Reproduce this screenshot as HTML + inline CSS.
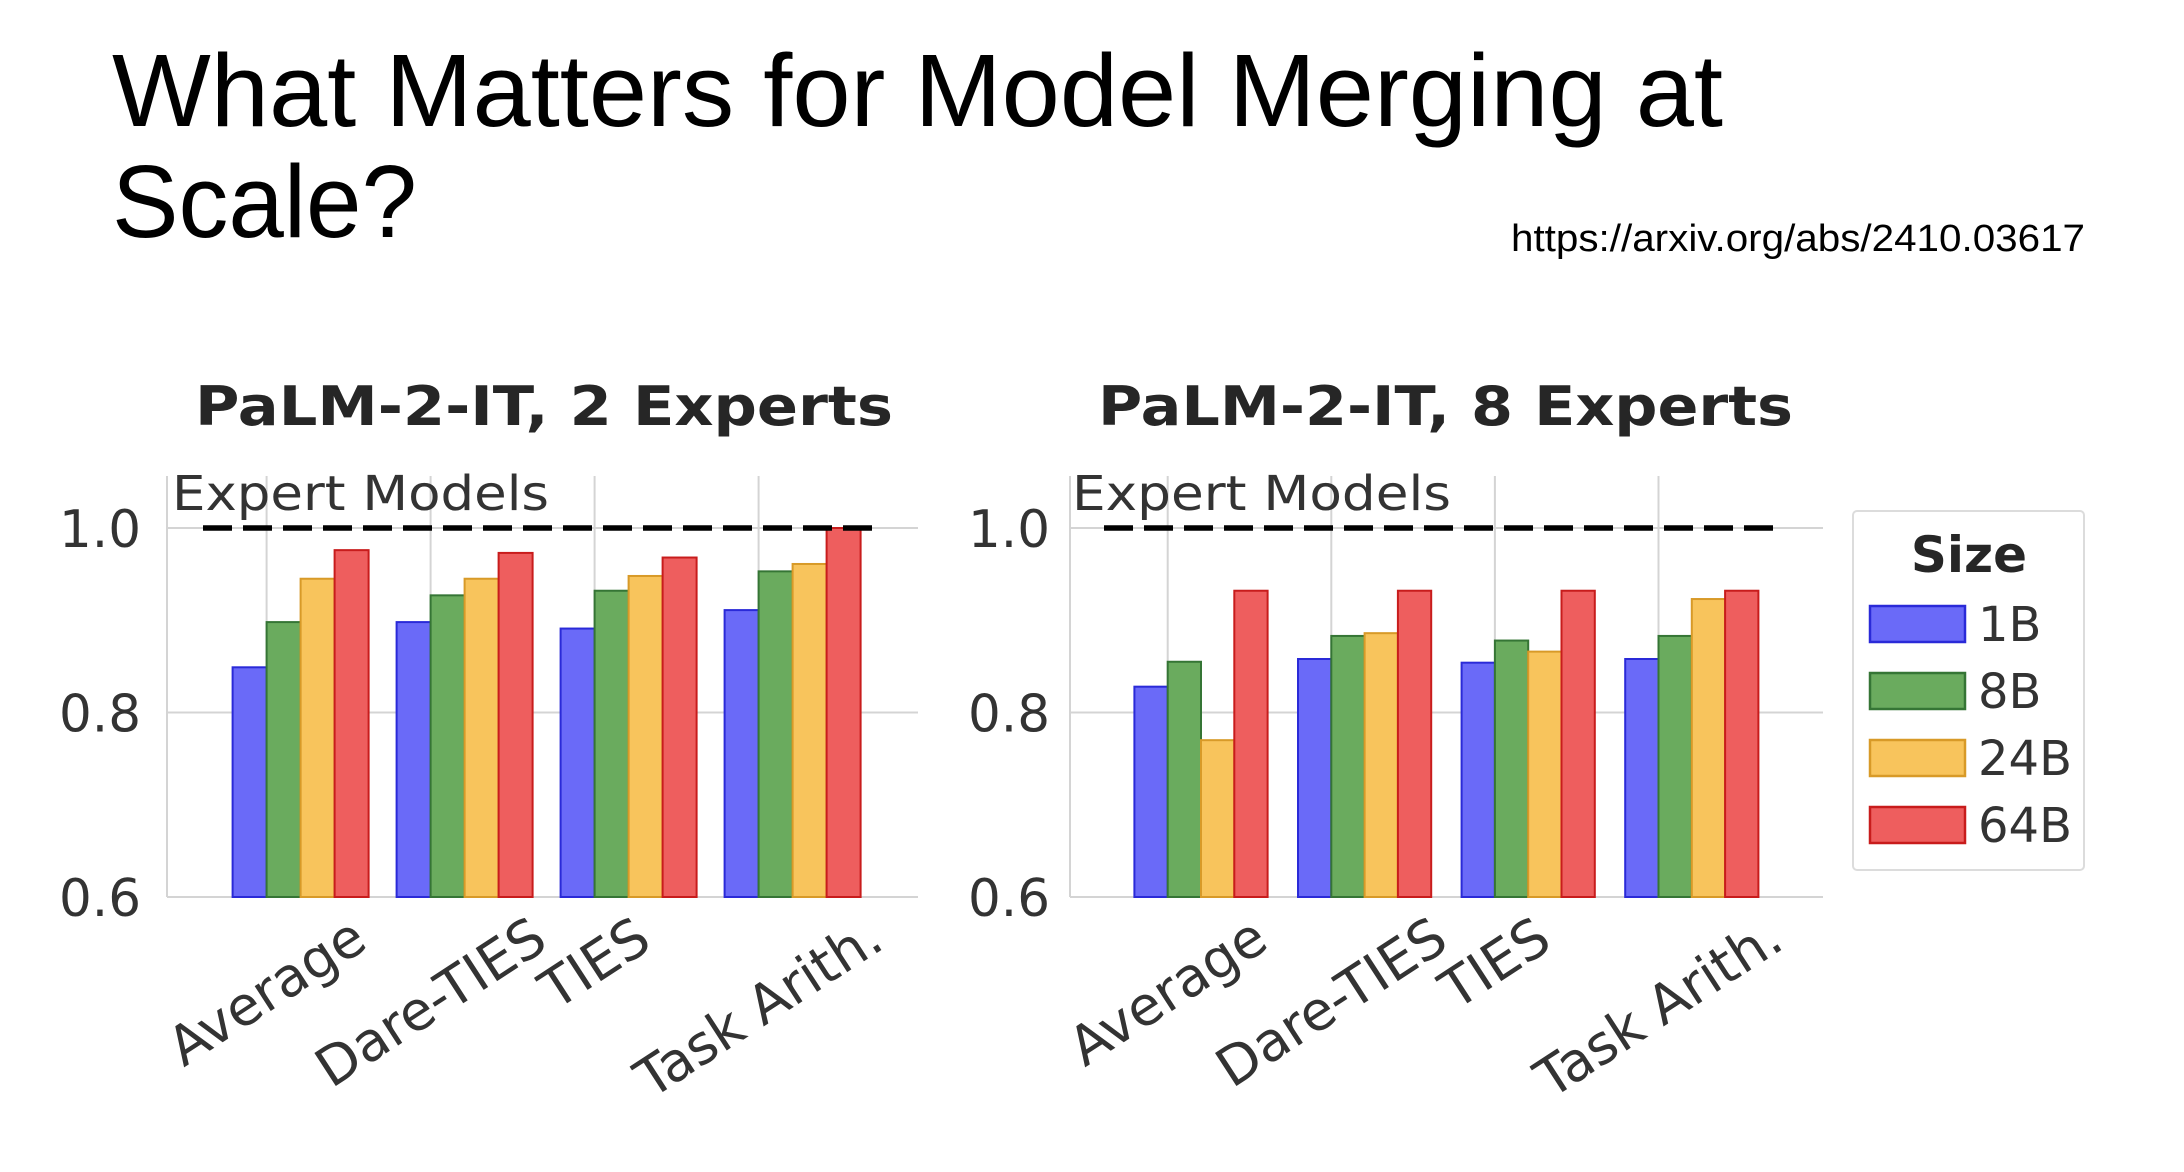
<!DOCTYPE html>
<html><head><meta charset="utf-8"><style>
html,body{margin:0;padding:0;background:#fff;}
svg{display:block;}
</style></head><body>
<svg id="root" width="2184" height="1172" xmlns="http://www.w3.org/2000/svg">
<text x="112" y="126" font-family="Liberation Sans, sans-serif" font-size="103" fill="#000" textLength="1611" lengthAdjust="spacingAndGlyphs">What Matters for Model Merging at</text>
<text x="112" y="237" font-family="Liberation Sans, sans-serif" font-size="103" fill="#000" textLength="305" lengthAdjust="spacingAndGlyphs">Scale?</text>
<text x="1511" y="251" font-family="Liberation Sans, sans-serif" font-size="38" fill="#000" textLength="574" lengthAdjust="spacingAndGlyphs">https://arxiv.org/abs/2410.03617</text>
<g id="charts"></g>
</svg>
<script>
const categories = ["Average", "Dare-TIES", "TIES", "Task Arith."];
const seriesNames = ["1B", "8B", "24B", "64B"];
const left1B  = [0.849, 0.898, 0.891, 0.911];
const left8B  = [0.898, 0.927, 0.932, 0.953];
const left24B = [0.945, 0.945, 0.948, 0.961];
const left64B = [0.976, 0.973, 0.968, 1.000];
const right1B  = [0.828, 0.858, 0.854, 0.858];
const right8B  = [0.855, 0.883, 0.878, 0.883];
const right24B = [0.770, 0.886, 0.866, 0.923];
const right64B = [0.932, 0.932, 0.932, 0.932];
const yTicks = [0.6, 0.8, 1.0];
const yTickLabels = ["0.6", "0.8", "1.0"];
const expertLevel = 1.0;
const chartTitles = ["PaLM-2-IT, 2 Experts", "PaLM-2-IT, 8 Experts"];

const NS = "http://www.w3.org/2000/svg";
const fills = ["#6a6af8", "#6aab5e", "#f8c45c", "#ee5e5e"];
const edges = ["#2a2ad8", "#357535", "#d89a28", "#c81c1c"];
const FONT = "DejaVu Sans, sans-serif";
const g = document.getElementById("charts");
function mk(tag, attrs, parent) {
  const e = document.createElementNS(NS, tag);
  for (const k in attrs) e.setAttribute(k, attrs[k]);
  (parent || g).appendChild(e);
  return e;
}
const yTop = 528, yBot = 897; // 1.0 and 0.6
function yScale(v) { return yBot - (v - 0.6) / 0.4 * (yBot - yTop); }

const panels = [
  { axL: 167, axR: 918, x0: 266.6, step: 164.0, bw: 34, series: [left1B, left8B, left24B, left64B], titleX: 195, titleW: 698, tickRight: 141, emX: 172, emW: 377, dashX1: 203, dashX2: 877 },
  { axL: 1070, axR: 1823, x0: 1167.7, step: 163.6, bw: 33.3, series: [right1B, right8B, right24B, right64B], titleX: 1098, titleW: 695, tickRight: 1050, emX: 1072, emW: 379, dashX1: 1104, dashX2: 1778 }
];

panels.forEach((p, pi) => {
  const xScale = k => p.x0 + k * p.step;
  const pg = mk("g", {});
  
  
  yTicks.forEach((t, i) => {
    const l = mk("line", { x1: p.axL, x2: p.axR, y1: yScale(t), y2: yScale(t), stroke: "#d4d4d4", "stroke-width": 2 }, pg);
    
    
    const tx = mk("text", { x: p.tickRight, y: yScale(t) + 19, "text-anchor": "end", "font-family": FONT, "font-size": 52, fill: "#333", textLength: 82, lengthAdjust: "spacingAndGlyphs" }, pg);
    tx.textContent = yTickLabels[i];
    
    
  });
  const al = mk("line", { x1: p.axL, x2: p.axL, y1: 476, y2: yBot, stroke: "#d4d4d4", "stroke-width": 2 }, pg);
  
  
  categories.forEach((c, k) => {
    const vl = mk("line", { x1: xScale(k), x2: xScale(k), y1: 476, y2: yBot, stroke: "#d4d4d4", "stroke-width": 2 }, pg);
    
    
  });
  p.series.forEach((arr, si) => {
    arr.forEach((v, k) => {
      const x = xScale(k) + (si - 1) * p.bw;
      const r = mk("rect", { x: x, y: yScale(v), width: p.bw, height: yBot - yScale(v), fill: fills[si], stroke: edges[si], "stroke-width": 2 }, pg);
      
      
    });
  });
  const dl = mk("line", { x1: p.dashX1, x2: p.dashX2, y1: yScale(expertLevel), y2: yScale(expertLevel), stroke: "#000", "stroke-width": 5.5, "stroke-dasharray": "29 11" }, pg);
  
  
  const em = mk("text", { x: p.emX, y: 510, "font-family": FONT, "font-size": 48, fill: "#333", textLength: p.emW, lengthAdjust: "spacingAndGlyphs" }, pg);
  em.textContent = "Expert Models";
  
  
  const tt = mk("text", { x: p.titleX, y: 425, "font-family": FONT, "font-size": 54, "font-weight": "bold", fill: "#262626", textLength: p.titleW, lengthAdjust: "spacingAndGlyphs" }, pg);
  tt.textContent = chartTitles[pi];
  
  
  categories.forEach((c, k) => {
    const t = mk("text", { x: 0, y: 0, "text-anchor": "middle", "font-family": FONT, "font-size": 54, fill: "#333", "dominant-baseline": "central" }, pg);
    t.textContent = c;
    
    
    const w = t.getComputedTextLength();
    const a = 33 * Math.PI / 180;
    const h = w * Math.sin(a) + 46 * Math.cos(a);
    const cx = xScale(k), cy = 912 + h / 2;
    t.setAttribute("transform", "translate(" + cx + "," + cy + ") rotate(-33)");
  });
});

const lg = mk("g", {});


mk("rect", { x: 1853, y: 511, width: 231, height: 359, fill: "#fff", stroke: "#dcdcdc", "stroke-width": 2, rx: 4 }, lg);
const lt = mk("text", { x: 1969, y: 572, "text-anchor": "middle", "font-family": FONT, "font-size": 50, "font-weight": "bold", fill: "#262626" }, lg);
lt.textContent = "Size";


seriesNames.forEach((s, i) => {
  const y = 606 + i * 67;
  const r = mk("rect", { x: 1870, y: y, width: 95, height: 36, fill: fills[i], stroke: edges[i], "stroke-width": 2.5 }, lg);
  
  
  const t = mk("text", { x: 1978, y: y + 35, "font-family": FONT, "font-size": 48, fill: "#333" }, lg);
  t.textContent = s;
  
  
});
</script>
</body></html>
